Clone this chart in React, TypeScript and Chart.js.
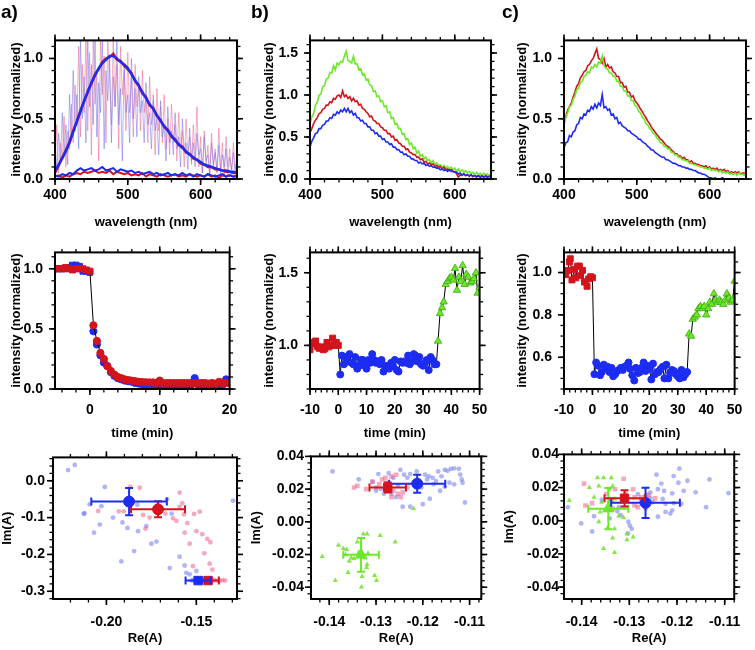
import React, { useEffect, useRef } from "react";
import { Chart, registerables } from "chart.js";
Chart.register(...registerables);

const FONT = "'Liberation Sans', Arial, Helvetica, sans-serif";
const TICK_FONT = { family: FONT, size: 14, weight: "bold" as const };
const TITLE_FONT = { family: FONT, size: 13, weight: "bold" as const };

const RED = "rgb(212,20,28)";
const BLUE = "rgb(28,44,242)";
const GREEN = "rgb(108,232,40)";
const PINK_LINE = "rgba(238,95,135,0.5)";
const LAV_LINE = "rgba(105,110,235,0.5)";
const PINK_DOT = "rgba(236,96,136,0.55)";
const LAV_DOT = "rgba(110,120,236,0.55)";
const GREEN_DOT = "rgba(110,226,40,0.85)";

// ---------------- spectra (wavelength, nm) ----------------
const WL25 = [400,402.5,405,407.5,410,412.5,415,417.5,420,422.5,425,427.5,430,432.5,435,437.5,440,442.5,445,447.5,450,452.5,455,457.5,460,462.5,465,467.5,470,472.5,475,477.5,480,482.5,485,487.5,490,492.5,495,497.5,500,502.5,505,507.5,510,512.5,515,517.5,520,522.5,525,527.5,530,532.5,535,537.5,540,542.5,545,547.5,550,552.5,555,557.5,560,562.5,565,567.5,570,572.5,575,577.5,580,582.5,585,587.5,590,592.5,595,597.5,600,602.5,605,607.5,610,612.5,615,617.5,620,622.5,625,627.5,630,632.5,635,637.5,640,642.5,645,647.5,650];
const WL5 = [400,405,410,415,420,425,430,435,440,445,450,455,460,465,470,475,480,485,490,495,500,505,510,515,520,525,530,535,540,545,550,555,560,565,570,575,580,585,590,595,600,605,610,615,620,625,630,635,640,645,650];

// panel a (top)
const A_SINGLE_RED = [0.12,0.45,0.05,0.30,0.18,0.52,0.10,0.40,0.25,0.62, 0.30,0.78,0.45,1.10,0.35,0.95,0.55,1.16,0.40,1.05, 0.20,1.16,0.62,0.90,0.15,1.16,0.70,1.02,0.30,1.16, 0.85,0.45,1.16,0.60,0.95,0.25,1.10,0.70,0.90,0.40, 1.05,0.55,0.85,0.35,0.95,0.60,0.80,0.40,0.90,0.55, 0.70,0.30,0.85,0.45,0.65,0.20,0.75,0.40,0.60,0.30, 0.70,0.25,0.50,0.20,0.62,0.30,0.45,0.15,0.55,0.25, 0.40,0.10,0.50,0.20,0.35,0.12,0.45,0.18,0.60,0.10, 0.35,0.05,0.40,0.12,0.28,0.02,0.38,0.10,0.25,0.05, 0.42,0.08,0.30,0.03,0.35,0.10,0.25,0.02,0.30,0.08, 0.20];
const A_SINGLE_BLUE = [0.30,0.08,0.38,0.15,0.55,0.20,0.45,0.12,0.70,0.35, 0.90,0.40,0.70,0.25,1.16,0.50,0.85,0.30,1.16,0.60, 0.95,0.45,1.16,0.35,0.80,0.55,1.16,0.25,0.90,0.65, 1.00,0.30,0.85,0.60,1.16,0.45,0.75,0.15,0.95,0.55, 0.70,0.30,1.00,0.50,0.75,0.35,0.85,0.55,0.65,0.30, 0.80,0.45,0.55,0.25,0.70,0.40,0.50,0.20,0.65,0.35, 0.45,0.15,0.60,0.30,0.40,0.20,0.55,0.25,0.35,0.10, 0.50,0.22,0.30,0.08,0.42,0.15,0.30,0.10,0.38,0.20, 0.25,0.05,0.35,0.15,0.20,0.03,0.30,0.12,0.22,0.06, 0.28,0.04,0.20,0.10,0.25,0.02,0.18,0.08,0.22,0.05, 0.15];
const A_AVG_BLUE = [0.07,0.12,0.17,0.23,0.30,0.39,0.48,0.56,0.65,0.72, 0.80,0.86,0.92,0.96,0.99,1.02,1.02,1.00,0.97,0.95, 0.92,0.87,0.82,0.77,0.72,0.67,0.62,0.58,0.53,0.48, 0.44,0.40,0.36,0.32,0.29,0.26,0.23,0.20,0.18,0.16, 0.14,0.12,0.11,0.10,0.09,0.08,0.07,0.07,0.06,0.06, 0.05];
const A_AVG_RED = [0.05,0.11,0.18,0.24,0.31,0.40,0.47,0.57,0.64,0.73, 0.79,0.87,0.91,0.97,1.00,1.01,1.04,0.99,0.98,0.94, 0.91,0.88,0.81,0.78,0.71,0.68,0.61,0.59,0.52,0.49, 0.43,0.41,0.35,0.33,0.28,0.27,0.22,0.21,0.17,0.16, 0.13,0.12,0.10,0.10,0.08,0.08,0.07,0.06,0.06,0.05, 0.05];
const A_LOW_BLUE = [0.03,0.02,0.04,0.03,0.05,0.04,0.07,0.09,0.07,0.08, 0.09,0.07,0.08,0.10,0.07,0.08,0.09,0.06,0.08,0.07, 0.06,0.07,0.05,0.06,0.04,0.05,0.06,0.04,0.05,0.03, 0.04,0.05,0.03,0.04,0.03,0.05,0.03,0.04,0.02,0.04, 0.03,0.02,0.04,0.03,0.02,0.03,0.04,0.02,0.03,0.02, 0.03];
const A_LOW_RED = [0.02,0.03,0.01,0.03,0.02,0.04,0.05,0.04,0.06,0.05, 0.06,0.07,0.05,0.06,0.05,0.07,0.04,0.06,0.05,0.04, 0.05,0.03,0.04,0.03,0.05,0.02,0.04,0.03,0.02,0.04, 0.03,0.02,0.03,0.04,0.02,0.03,0.02,0.04,0.03,0.02, 0.03,0.02,0.04,0.02,0.03,0.01,0.03,0.02,0.03,0.02, 0.02];

// panel b (top)
const B_GREEN = [0.66,0.74,0.78,0.88,0.91,1.00,1.01,1.10,1.11,1.19, 1.20,1.27,1.26,1.35,1.30,1.38,1.36,1.40,1.39,1.46, 1.52,1.41,1.40,1.38,1.46,1.37,1.37,1.30,1.31,1.24, 1.25,1.18,1.19,1.12,1.11,1.04,1.05,0.98,0.99,0.92, 0.93,0.86,0.87,0.79,0.80,0.72,0.73,0.65,0.66,0.60, 0.60,0.53,0.54,0.47,0.48,0.41,0.43,0.36,0.38,0.31, 0.33,0.27,0.29,0.24,0.26,0.22,0.23,0.19,0.22,0.17, 0.19,0.16,0.17,0.14,0.16,0.13,0.15,0.12,0.14,0.11, 0.13,0.09,0.12,0.08,0.11,0.08,0.10,0.07,0.09,0.06, 0.08,0.05,0.08,0.05,0.07,0.04,0.07,0.05,0.06,0.04, 0.06];
const B_RED = [0.55,0.60,0.66,0.70,0.73,0.78,0.79,0.83,0.84,0.88, 0.88,0.92,0.91,0.96,0.95,0.99,1.00,0.97,1.05,0.98, 1.00,0.96,0.98,0.93,0.96,0.92,0.93,0.88,0.89,0.84, 0.83,0.80,0.78,0.74,0.75,0.70,0.69,0.66,0.66,0.62, 0.61,0.58,0.58,0.54,0.54,0.50,0.51,0.46,0.47,0.43, 0.42,0.39,0.39,0.35,0.36,0.32,0.31,0.29,0.29,0.26, 0.26,0.23,0.24,0.20,0.21,0.18,0.19,0.17,0.18,0.15, 0.16,0.14,0.15,0.12,0.14,0.11,0.12,0.10,0.11,0.09, 0.09,0.06,0.02,0.05,0.04,0.06,0.04,0.05,0.03,0.05, 0.03,0.04,0.02,0.04,0.03,0.04,0.02,0.04,0.03,0.03, 0.04];
const B_BLUE = [0.38,0.45,0.49,0.54,0.55,0.60,0.60,0.64,0.65,0.69, 0.69,0.73,0.72,0.77,0.76,0.80,0.78,0.82,0.80,0.84, 0.80,0.84,0.79,0.81,0.76,0.78,0.73,0.73,0.69,0.70, 0.66,0.66,0.62,0.62,0.58,0.58,0.54,0.55,0.51,0.51, 0.47,0.48,0.44,0.44,0.41,0.42,0.38,0.38,0.35,0.35, 0.32,0.32,0.29,0.30,0.27,0.27,0.24,0.24,0.22,0.22, 0.19,0.20,0.18,0.19,0.16,0.17,0.15,0.16,0.14,0.14, 0.13,0.13,0.11,0.12,0.10,0.11,0.09,0.11,0.09,0.09, 0.08,0.08,0.06,0.07,0.05,0.06,0.04,0.05,0.04,0.05, 0.03,0.04,0.03,0.04,0.02,0.03,0.03,0.03,0.02,0.03, 0.03];

// panel c (top)
const C_RED = [0.47,0.52,0.57,0.60,0.63,0.68,0.72,0.77,0.79,0.84, 0.86,0.89,0.90,0.94,0.95,0.98,1.00,1.04,1.08,1.00, 0.99,0.96,1.00,0.93,0.95,0.92,0.93,0.89,0.88,0.85, 0.85,0.80,0.80,0.76,0.77,0.72,0.72,0.68,0.69,0.65, 0.63,0.61,0.58,0.56,0.53,0.51,0.48,0.46,0.43,0.41, 0.39,0.37,0.35,0.33,0.32,0.30,0.28,0.27,0.26,0.24, 0.23,0.21,0.21,0.19,0.19,0.17,0.18,0.16,0.16,0.14, 0.15,0.13,0.13,0.12,0.12,0.11,0.11,0.10,0.11,0.09, 0.10,0.08,0.09,0.08,0.09,0.07,0.08,0.07,0.08,0.06, 0.07,0.05,0.06,0.05,0.06,0.05,0.06,0.04,0.05,0.05, 0.05];
const C_GREEN = [0.45,0.51,0.55,0.60,0.61,0.66,0.69,0.74,0.75,0.80, 0.81,0.85,0.86,0.89,0.88,0.93,0.92,0.95,0.93,0.97, 0.96,1.02,0.94,0.92,0.91,0.88,0.88,0.85,0.85,0.81, 0.81,0.77,0.77,0.73,0.73,0.69,0.69,0.65,0.65,0.61, 0.60,0.56,0.55,0.51,0.50,0.46,0.45,0.42,0.41,0.38, 0.37,0.34,0.33,0.30,0.30,0.27,0.27,0.25,0.25,0.22, 0.22,0.20,0.20,0.18,0.18,0.16,0.16,0.15,0.15,0.13, 0.13,0.12,0.12,0.11,0.11,0.10,0.10,0.09,0.09,0.08, 0.09,0.07,0.08,0.07,0.07,0.06,0.07,0.05,0.06,0.05, 0.06,0.04,0.05,0.04,0.05,0.03,0.05,0.04,0.04,0.03, 0.04];
const C_BLUE = [0.26,0.30,0.31,0.36,0.35,0.39,0.40,0.45,0.46,0.51, 0.50,0.54,0.53,0.57,0.56,0.60,0.58,0.62,0.59,0.63, 0.61,0.70,0.59,0.60,0.57,0.58,0.53,0.54,0.50,0.51, 0.46,0.47,0.44,0.43,0.42,0.40,0.40,0.38,0.37,0.36, 0.35,0.33,0.33,0.31,0.30,0.29,0.27,0.26,0.24,0.24, 0.22,0.21,0.20,0.19,0.18,0.18,0.16,0.16,0.15,0.14, 0.13,0.13,0.12,0.11,0.11,0.10,0.10,0.09,0.09,0.08, 0.08,0.07,0.07,0.06,0.05,0.05,0.04,0.04,0.03,0.02, 0.01,0.01,0.00,0.01,0.00,0.00,0.00,0.01,0.00,0.00, 0.00,0.00,0.00,0.00,0.00,0.00,0.00,0.00,0.00,0.00, 0.00];

// ---------------- kinetics (time, min) ----------------
const TIME_A = [-5,-4.5,-4,-3.5,-3,-2.5,-2,-1.5,-1,-0.5,0,0.5,1,1.5,2,2.5,3,3.5,4,4.5,5,5.5,6,6.5,7,7.5,8,8.5,9,9.5,10,10.5,11,11.5,12,12.5,13,13.5,14,14.5,15,15.5,16,16.5,17,17.5,18,18.5,19,19.5,20];
const KIN_A_RED = [1.00,1.00,1.00,1.01,1.00,0.99,1.00,1.00,1.00,0.99,0.98, 0.53,0.40,0.30,0.25,0.19,0.15,0.12,0.10,0.09,0.08, 0.075,0.07,0.065,0.06,0.058,0.056,0.055,0.055,0.05,0.07, 0.05,0.05,0.05,0.05,0.05,0.05,0.05,0.05,0.05,0.05, 0.05,0.05,0.05,0.045,0.05,0.045,0.06,0.05,0.05,0.05];
const KIN_A_BLUE = [1.00,1.00,1.00,1.00,1.01,1.03,1.03,1.02,0.98,0.98,0.97, 0.48,0.37,0.28,0.22,0.19,0.14,0.11,0.09,0.08,0.07, 0.065,0.06,0.05,0.045,0.04,0.04,0.04,0.04,0.035,0.035, 0.035,0.03,0.035,0.035,0.03,0.035,0.035,0.03,0.035,0.09, 0.035,0.03,0.035,0.035,0.03,0.035,0.035,0.035,0.08,0.06];

const TIME_B_RED = [-10,-9.3,-8.7,-8,-7.3,-6.7,-6,-5.3,-4.7,-4,-3.3,-2.7,-2,-1.3,-0.7,0];
const KIN_B_RED = [0.97,1.01,1.02,1.03,0.99,0.98,0.99,0.97,0.98,1.02,0.99,1.00,1.05,1.00,1.02,1.00];
const TIME_B_BLUE = [0.7,1.3,2,2.7,3.3,4,4.7,5.3,6,6.7,7.3,8,8.7,9.3,10,10.7,11.3,12,12.7,13.3,14,14.7,15.3,16,16.7,17.3,18,18.7,19.3,20,20.7,21.3,22,22.7,23.3,24,24.7,25.3,26,26.7,27.3,28,28.7,29.3,30,30.7,31.3,32,32.7,33.3,34,34.7];
const KIN_B_BLUE = [0.80,0.93,0.87,0.92,0.89,0.94,0.88,0.87,0.92,0.84, 0.86,0.90,0.90,0.86,0.84,0.90,0.88,0.94,0.90,0.88, 0.89,0.87,0.90,0.82,0.86,0.85,0.84,0.88,0.86,0.90, 0.83,0.82,0.89,0.88,0.89,0.88,0.93,0.87,0.89,0.94, 0.93,0.89,0.92,0.87,0.86,0.88,0.90,0.83,0.92,0.90, 0.87,0.87];
const TIME_B_GREEN = [35.3,36,36.7,37.3,38,38.7,39.3,40,40.7,41.3,42,42.7,43.3,44,44.7,45.3,46,46.7,47.3,48,48.7,49.3,50];
const KIN_B_GREEN = [1.03,1.22,1.26,1.30,1.42,1.44,1.46,1.47,1.45,1.53,1.38,1.47,1.44,1.55,1.42,1.49,1.47,1.43,1.44,1.46,1.50,1.36,1.40];

const TIME_C_RED = [-9.4,-8.7,-8.1,-7.8,-7.2,-6.3,-5.9,-5.2,-4.6,-4.2,-3.5,-2.8,-1.9,-1.3,-0.6,0];
const KIN_C_RED = [0.99,1.01,1.05,1.065,0.965,1.015,0.975,1.03,1.03,0.985,1.01,0.955,0.935,0.97,0.98,0.975];
const TIME_C_BLUE = [0.7,1.3,2,2.7,3.3,4,4.7,5.3,6,6.7,7.3,8,8.7,9.3,10,10.7,11.3,12,12.7,13.3,14,14.7,15.3,16,16.7,17.3,18,18.7,19.3,20,20.7,21.3,22,22.7,23.3,24,24.7,25.3,26,26.7,27.3,28,28.7,29.3,30,30.7,31.3,32,32.7,33.3];
const KIN_C_BLUE = [0.52,0.575,0.56,0.515,0.53,0.565,0.55,0.555,0.53,0.55, 0.51,0.52,0.535,0.54,0.55,0.54,0.555,0.56,0.575,0.545, 0.515,0.49,0.55,0.525,0.53,0.55,0.575,0.535,0.56,0.545, 0.495,0.57,0.52,0.53,0.53,0.545,0.555,0.50,0.565,0.50, 0.525,0.54,0.535,0.52,0.51,0.50,0.54,0.505,0.52,0.53];
const TIME_C_GREEN = [34,34.7,35.3,36,36.7,37.3,38,38.7,39.3,40,40.7,41.3,42,42.7,43.3,44,44.7,45.3,46,46.7,47.3,48,48.7,49.3,50];
const KIN_C_GREEN = [0.71,0.70,0.78,0.79,0.80,0.83,0.84,0.83,0.84,0.80,0.83,0.86,0.85,0.90,0.87,0.86,0.87,0.86,0.85,0.87,0.90,0.88,0.86,0.87,0.96];

// ---------------- phasor plots Re(A) / Im(A) ----------------
const PA_BLUE_RE = [-0.2213,-0.2176,-0.2009,-0.2093,-0.2126,-0.2122,-0.2028,-0.2037,-0.2069,-0.1963,-0.1917,-0.1911,-0.1883,-0.1846,-0.1824,-0.1828,-0.1778,-0.1750,-0.1722,-0.1663,-0.1637,-0.1648,-0.1593,-0.1565,-0.1556,-0.1537,-0.1528,-0.1500,-0.1296,-0.1520,-0.1505,-0.1490,-0.1475,-0.1460,-0.1445];
const PA_BLUE_IM = [0.029,0.043,-0.017,-0.064,-0.090,-0.088,-0.069,-0.119,-0.141,-0.100,-0.219,-0.113,-0.128,-0.191,-0.137,-0.065,-0.123,-0.171,-0.165,-0.050,-0.089,-0.237,-0.206,-0.230,-0.250,-0.254,-0.271,-0.245,-0.054,-0.270,-0.272,-0.270,-0.271,-0.272,-0.270];
const PA_RED_RE = [-0.2046,-0.1931,-0.1904,-0.1867,-0.1815,-0.1796,-0.1783,-0.1760,-0.1722,-0.1704,-0.1672,-0.1630,-0.1611,-0.1593,-0.1593,-0.1578,-0.1565,-0.1569,-0.1550,-0.1537,-0.1513,-0.1500,-0.1481,-0.1467,-0.1456,-0.1439,-0.1422,-0.1426,-0.1411,-0.1519,-0.1430,-0.1415,-0.1400,-0.1385,-0.1370,-0.1355,-0.1340];
const PA_RED_IM = [-0.082,-0.083,-0.083,-0.017,-0.019,-0.093,-0.130,-0.100,-0.076,-0.071,-0.089,-0.102,-0.109,-0.071,-0.032,-0.061,-0.141,-0.091,-0.115,-0.171,-0.090,-0.137,-0.084,-0.145,-0.197,-0.158,-0.167,-0.225,-0.241,-0.232,-0.270,-0.272,-0.270,-0.271,-0.272,-0.270,-0.271];
const PA_MEAN_RE = [-0.1874,-0.1713,-0.1490,-0.1435];
const PA_MEAN_IM = [-0.0565,-0.0774,-0.271,-0.271];
const PA_ERR_RE = [0.021,0.015,0.007,0.006];
const PA_ERR_IM = [0.037,0.022,0.002,0.002];

const PB_BLUE_RE = [-0.1393,-0.1337,-0.1308,-0.1295,-0.1273,-0.1263,-0.1248,-0.1240,-0.1233,-0.1227,-0.1213,-0.1195,-0.1191,-0.1187,-0.1179,-0.1172,-0.1167,-0.1160,-0.1153,-0.1147,-0.1140,-0.1133,-0.1123,-0.1120,-0.1117,-0.1115,-0.1133,-0.1143,-0.1153,-0.1163,-0.1177,-0.1185,-0.1200,-0.1227,-0.1243,-0.1110,-0.1257,-0.1283,-0.1300,-0.1290,-0.1267,-0.1213,-0.1203,-0.1253];
const PB_BLUE_IM = [0.0308,0.0259,0.0245,0.0292,0.0298,0.0269,0.0318,0.0288,0.0269,0.0292,0.0308,0.0288,0.0259,0.0278,0.0269,0.0249,0.0308,0.0278,0.0318,0.0312,0.0324,0.0327,0.0324,0.0288,0.0259,0.0239,0.0229,0.0239,0.0214,0.0190,0.0229,0.0141,0.0108,0.0092,0.0092,0.0118,0.0151,0.0171,0.0190,0.0200,0.0171,0.0229,0.0210,0.0220];
const PB_RED_RE = [-0.1347,-0.1340,-0.1321,-0.1307,-0.1293,-0.1287,-0.1280,-0.1277,-0.1267,-0.1257,-0.1263,-0.1253,-0.1243,-0.1233,-0.1247,-0.1267,-0.1300,-0.1270];
const PB_RED_IM = [0.0210,0.0220,0.0200,0.0245,0.0229,0.0259,0.0269,0.0239,0.0278,0.0288,0.0190,0.0171,0.0180,0.0210,0.0151,0.0151,0.0210,0.0190];
const PB_GREEN_RE = [-0.1415,-0.1387,-0.1380,-0.1370,-0.1363,-0.1357,-0.1360,-0.1365,-0.1353,-0.1347,-0.1340,-0.1327,-0.1319,-0.1330,-0.1331,-0.1320,-0.1319,-0.1303,-0.1299,-0.1291,-0.1259,-0.1220,-0.1337,-0.1317,-0.1323];
const PB_GREEN_IM = [-0.0212,-0.0359,-0.0143,-0.0163,-0.0169,-0.0241,-0.0310,-0.0202,-0.0222,-0.0225,-0.0124,-0.0075,-0.0075,-0.0335,-0.0398,-0.0280,-0.0261,-0.0329,-0.0359,-0.0084,-0.0124,0.0082,-0.0186,-0.0192,-0.0222];
const PB_MEAN_RE = [-0.1275,-0.1212,-0.1332];
const PB_MEAN_IM = [0.021,0.0233,-0.0202];
const PB_ERR_RE = [0.0039,0.006,0.0038];
const PB_ERR_IM = [0.003,0.0055,0.0103];

const PC_BLUE_RE = [-0.1429,-0.1401,-0.1378,-0.1374,-0.1358,-0.1341,-0.1325,-0.1318,-0.1302,-0.1295,-0.1299,-0.1303,-0.1282,-0.1276,-0.1263,-0.1256,-0.1251,-0.1243,-0.1240,-0.1233,-0.1227,-0.1230,-0.1224,-0.1210,-0.1207,-0.1210,-0.1214,-0.1207,-0.1197,-0.1191,-0.1186,-0.1178,-0.1161,-0.1139,-0.1132,-0.1195,-0.1092,-0.1224,-0.1240,-0.1322,-0.1341,-0.1256];
const PC_BLUE_IM = [0.0082,-0.0016,-0.0065,0.0027,0.0127,0.0112,0.0057,0.0033,-0.0006,-0.0049,-0.0029,-0.0076,0.0161,0.0127,0.0155,0.0135,0.0112,0.0278,0.0190,0.0224,0.0180,0.0131,0.0102,0.0165,0.0106,0.0063,0.0043,0.0269,0.0229,0.0102,0.0180,0.0241,0.0171,0.0082,0.0249,0.0314,0.0167,0.0053,0.0024,0.0082,0.0014,0.0171];
const PC_RED_RE = [-0.1395,-0.1392,-0.1378,-0.1348,-0.1330,-0.1312,-0.1308,-0.1292,-0.1289,-0.1282,-0.1276,-0.1269,-0.1266,-0.1259,-0.1246,-0.1289,-0.1338,-0.1335];
const PC_RED_IM = [0.0224,0.0092,0.0106,0.0161,0.0190,0.0253,0.0161,0.0190,0.0092,0.0082,0.0141,0.0122,0.0076,0.0155,0.0135,0.0141,0.0127,0.0073];
const PC_GREEN_RE = [-0.1426,-0.1384,-0.1367,-0.1364,-0.1358,-0.1354,-0.1338,-0.1335,-0.1342,-0.1331,-0.1361,-0.1364,-0.1354,-0.1335,-0.1331,-0.1305,-0.1292,-0.1305,-0.1322,-0.1331,-0.1346,-0.1312,-0.1374];
const PC_GREEN_IM = [0.0122,0.0200,0.0259,0.0210,0.0112,0.0259,0.0259,0.0210,0.0190,0.0131,0.0053,-0.0006,-0.0167,-0.0104,-0.0192,-0.0114,-0.0098,-0.0080,0.0029,-0.0049,-0.0045,0.0018,0.0141];
const PC_MEAN_RE = [-0.131,-0.1266,-0.1344];
const PC_MEAN_IM = [0.0135,0.0108,0.0073];
const PC_ERR_RE = [0.0042,0.0072,0.0042];
const PC_ERR_IM = [0.0049,0.0091,0.0124];

// ---------------- helpers ----------------
const xy = (xs: number[], ys: number[]) => xs.map((x, i) => ({ x, y: ys[i] }));

const frameTicks = {
  id: "frameTicks",
  afterDraw(chart: any, _args: any, opts: any) {
    const { ctx, chartArea } = chart;
    const { left, right, top, bottom } = chartArea;
    const xs = chart.scales.x;
    const ys = chart.scales.y;
    const vals = (min: number, max: number, step: number) => {
      const out: number[] = [];
      const k0 = Math.ceil(min / step - 1e-6);
      const k1 = Math.floor(max / step + 1e-6);
      for (let k = k0; k <= k1; k++) out.push(k * step);
      return out;
    };
    const seg = (a: number, b: number, c: number, d: number) => {
      ctx.beginPath(); ctx.moveTo(a, b); ctx.lineTo(c, d); ctx.stroke();
    };
    ctx.save();
    ctx.strokeStyle = "#000";
    ctx.lineWidth = 1.3;
    vals(xs.min, xs.max, opts.xMinor).forEach((v) => {
      const p = xs.getPixelForValue(v); seg(p, bottom, p, bottom + 3.5); seg(p, top, p, top - 3.5);
    });
    vals(ys.min, ys.max, opts.yMinor).forEach((v) => {
      const p = ys.getPixelForValue(v); seg(left, p, left - 3.5, p); seg(right, p, right + 3.5, p);
    });
    ctx.lineWidth = 1.6;
    xs.ticks.forEach((t: any) => {
      const p = xs.getPixelForValue(t.value); seg(p, bottom, p, bottom + 6); seg(p, top, p, top - 6);
    });
    ys.ticks.forEach((t: any) => {
      const p = ys.getPixelForValue(t.value); seg(left, p, left - 6, p); seg(right, p, right + 6, p);
    });
    ctx.lineWidth = 2;
    ctx.strokeRect(left, top, right - left, bottom - top);
    ctx.restore();
  },
};

const errorBars = {
  id: "errorBars",
  beforeDatasetDraw(chart: any, args: any) {
    const ds = chart.data.datasets[args.index];
    if (!ds.errX) return;
    const { ctx } = chart;
    const xs = chart.scales.x;
    const ys = chart.scales.y;
    const cap = 4;
    ctx.save();
    ctx.strokeStyle = ds.borderColor;
    ctx.lineWidth = 2;
    ds.data.forEach((pt: any, i: number) => {
      const px = xs.getPixelForValue(pt.x);
      const py = ys.getPixelForValue(pt.y);
      const x0 = xs.getPixelForValue(pt.x - ds.errX[i]);
      const x1 = xs.getPixelForValue(pt.x + ds.errX[i]);
      const y0 = ys.getPixelForValue(pt.y - ds.errY[i]);
      const y1 = ys.getPixelForValue(pt.y + ds.errY[i]);
      ctx.beginPath();
      ctx.moveTo(x0, py); ctx.lineTo(x1, py);
      ctx.moveTo(x0, py - cap); ctx.lineTo(x0, py + cap);
      ctx.moveTo(x1, py - cap); ctx.lineTo(x1, py + cap);
      ctx.moveTo(px, y0); ctx.lineTo(px, y1);
      ctx.moveTo(px - cap, y0); ctx.lineTo(px + cap, y0);
      ctx.moveTo(px - cap, y1); ctx.lineTo(px + cap, y1);
      ctx.stroke();
    });
    ctx.restore();
  },
};

type Geo = { cx: number; cy: number; cw: number; ch: number; L: number; T: number; R: number; B: number };
type Ax = { min: number; max: number; step: number; minor: number; dec: number; title: string; tickPad: number; titlePad: number };

function buildOptions(g: Geo, ax: Ax, ay: Ax) {
  const W = g.L - g.cx;
  const H = g.cy + g.ch - g.B;
  const fmt = (d: number) => (v: any) => {
    const n = Number(v);
    return (Math.abs(n) < 1e-9 ? 0 : n).toFixed(d);
  };
  return {
    responsive: false,
    maintainAspectRatio: false,
    animation: false,
    events: [],
    layout: { padding: { left: 0, top: g.T - g.cy, right: g.cx + g.cw - g.R, bottom: 0 } },
    plugins: {
      legend: { display: false },
      tooltip: { enabled: false },
      frameTicks: { xMinor: ax.minor, yMinor: ay.minor },
    },
    scales: {
      x: {
        type: "linear", position: "bottom", min: ax.min, max: ax.max,
        grid: { display: false, drawTicks: false, tickLength: 0 }, border: { display: false },
        ticks: { stepSize: ax.step, includeBounds: false, autoSkip: false, maxRotation: 0, padding: ax.tickPad, color: "#000", font: TICK_FONT, callback: fmt(ax.dec) },
        title: { display: true, text: ax.title, color: "#000", font: TITLE_FONT, padding: { top: 0, bottom: ax.titlePad } },
        afterFit: (s: any) => { s.height = H; },
      },
      y: {
        type: "linear", position: "left", min: ay.min, max: ay.max,
        grid: { display: false, drawTicks: false, tickLength: 0 }, border: { display: false },
        ticks: { stepSize: ay.step, includeBounds: false, autoSkip: false, padding: ay.tickPad, color: "#000", font: TICK_FONT, callback: fmt(ay.dec) },
        title: { display: true, text: ay.title, color: "#000", font: TITLE_FONT, padding: { top: ay.titlePad, bottom: 0 } },
        afterFit: (s: any) => { s.width = W; },
      },
    },
  };
}

const lineDs = (xs: number[], ys: number[], color: string, width: number, order: number) => ({
  data: xy(xs, ys), showLine: true, borderColor: color, backgroundColor: color, borderWidth: width,
  pointRadius: 0, pointHoverRadius: 0, tension: 0, clip: 0, order,
});

const markerDs = (xs: number[], ys: number[], color: string, style: any, radius: any, order: number, border?: string, bw = 1) => ({
  data: xy(xs, ys), showLine: false, backgroundColor: color, borderColor: border || color, borderWidth: bw,
  pointStyle: style, pointRadius: radius, pointHoverRadius: radius, order,
});

const meanDs = (re: number[], im: number[], ere: number[], eim: number[], colors: string[], styles: string[]) =>
  re.map((r, i) => ({
    data: [{ x: r, y: im[i] }], showLine: false, backgroundColor: colors[i], borderColor: colors[i], borderWidth: 1,
    pointStyle: styles[i], pointRadius: styles[i] === "circle" ? 5.5 : styles[i] === "rect" ? 6 : 6.5,
    errX: [ere[i]], errY: [eim[i]], order: 1,
  }));

// ---------------- layout ----------------
const TOP = { cy: 20, ch: 210, T: 30, B: 179 };
const MID = { cy: 232, ch: 209, T: 242, B: 389 };
const BOT = { cy: 441, ch: 205, T: 451, B: 599 };

const specX = (titlePad: number): Ax => ({ min: 400, max: 650, step: 100, minor: 20, dec: 0, title: "wavelength (nm)", tickPad: 7.6, titlePad });
const timeX = (min: number, max: number): Ax => ({ min, max, step: 10, minor: 2, dec: 0, title: "time (min)", tickPad: 12.6, titlePad: 0 });

const PANELS: { geo: Geo; make: () => any }[] = [
  // ---- top row: spectra ----
  {
    geo: { cx: 0, cw: 250, L: 55, R: 237, ...TOP },
    make: () => ({
      datasets: [
        lineDs(WL25, A_SINGLE_RED, PINK_LINE, 1, 6),
        lineDs(WL25, A_SINGLE_BLUE, LAV_LINE, 1, 5),
        lineDs(WL5, A_AVG_RED, RED, 2.5, 4),
        lineDs(WL5, A_AVG_BLUE, BLUE, 2.5, 3),
        lineDs(WL5, A_LOW_RED, RED, 2, 2),
        lineDs(WL5, A_LOW_BLUE, BLUE, 2, 1),
      ],
      x: specX(0),
      y: { min: 0, max: 1.15, step: 0.5, minor: 0.1, dec: 1, title: "intensity (normalized)", tickPad: 12, titlePad: 9 },
    }),
  },
  {
    geo: { cx: 250, cw: 250, L: 310, R: 491, ...TOP },
    make: () => ({
      datasets: [
        lineDs(WL25, B_GREEN, GREEN, 1.6, 3),
        lineDs(WL25, B_RED, RED, 1.6, 2),
        lineDs(WL25, B_BLUE, BLUE, 1.6, 1),
      ],
      x: specX(0),
      y: { min: 0, max: 1.65, step: 0.5, minor: 0.1, dec: 1, title: "intensity (normalized)", tickPad: 12, titlePad: 11.7 },
    }),
  },
  {
    geo: { cx: 500, cw: 255, L: 564, R: 746, ...TOP },
    make: () => ({
      datasets: [
        lineDs(WL25, C_RED, RED, 1.6, 3),
        lineDs(WL25, C_GREEN, GREEN, 1.6, 2),
        lineDs(WL25, C_BLUE, BLUE, 1.6, 1),
      ],
      x: specX(0),
      y: { min: 0, max: 1.15, step: 0.5, minor: 0.1, dec: 1, title: "intensity (normalized)", tickPad: 12, titlePad: 14.7 },
    }),
  },
  // ---- middle row: kinetics ----
  {
    geo: { cx: 0, cw: 250, L: 55, R: 237, ...MID },
    make: () => ({
      datasets: [
        markerDs(TIME_A, KIN_A_BLUE, BLUE, (c: any) => (TIME_A[c.dataIndex] <= 0 ? "rect" : "circle"), (c: any) => (TIME_A[c.dataIndex] <= 0 ? 4.2 : 3.6), 3),
        lineDs(TIME_A, KIN_A_RED, "#000", 1, 2),
        markerDs(TIME_A, KIN_A_RED, RED, (c: any) => (TIME_A[c.dataIndex] <= 0 ? "rect" : "circle"), (c: any) => (TIME_A[c.dataIndex] <= 0 ? 4.2 : 3.6), 1),
      ],
      x: timeX(-5, 20),
      y: { min: 0, max: 1.136, step: 0.5, minor: 0.1, dec: 1, title: "intensity (normalized)", tickPad: 12, titlePad: 8.3 },
    }),
  },
  {
    geo: { cx: 250, cw: 250, L: 310, R: 491, ...MID },
    make: () => ({
      datasets: [
        lineDs([...TIME_B_RED, ...TIME_B_BLUE, ...TIME_B_GREEN], [...KIN_B_RED, ...KIN_B_BLUE, ...KIN_B_GREEN], "#000", 1, 5),
        markerDs(TIME_B_RED, KIN_B_RED, RED, "rect", 4.2, 1),
        markerDs(TIME_B_BLUE, KIN_B_BLUE, BLUE, "circle", 3.5, 2),
        markerDs(TIME_B_GREEN, KIN_B_GREEN, GREEN, "triangle", 4.3, 3, "rgb(60,170,20)", 0.8),
      ],
      x: timeX(-10, 50),
      y: { min: 0.7, max: 1.64, step: 0.5, minor: 0.1, dec: 1, title: "intensity (normalized)", tickPad: 12, titlePad: 11.7 },
    }),
  },
  {
    geo: { cx: 500, cw: 255, L: 564, R: 746, ...MID },
    make: () => ({
      datasets: [
        lineDs([...TIME_C_RED, ...TIME_C_BLUE, ...TIME_C_GREEN], [...KIN_C_RED, ...KIN_C_BLUE, ...KIN_C_GREEN], "#000", 1, 5),
        markerDs(TIME_C_RED, KIN_C_RED, RED, "rect", 4.2, 1),
        markerDs(TIME_C_BLUE, KIN_C_BLUE, BLUE, "circle", 3.5, 2),
        markerDs(TIME_C_GREEN, KIN_C_GREEN, GREEN, "triangle", 4.3, 3, "rgb(60,170,20)", 0.8),
      ],
      x: timeX(-10, 50),
      y: { min: 0.45, max: 1.095, step: 0.2, minor: 0.05, dec: 1, title: "intensity (normalized)", tickPad: 12, titlePad: 15 },
    }),
  },
  // ---- bottom row: Re(A) vs Im(A) ----
  {
    geo: { cx: 0, cw: 250, L: 53, R: 237, ...BOT },
    make: () => ({
      datasets: [
        markerDs(PA_BLUE_RE, PA_BLUE_IM, LAV_DOT, "circle", 2.4, 6, LAV_DOT, 0),
        markerDs(PA_RED_RE, PA_RED_IM, PINK_DOT, "circle", 2.4, 5, PINK_DOT, 0),
        ...meanDs(PA_MEAN_RE, PA_MEAN_IM, PA_ERR_RE, PA_ERR_IM, [BLUE, RED, BLUE, RED], ["circle", "circle", "rect", "rect"]),
      ],
      x: { min: -0.2297, max: -0.1274, step: 0.05, minor: 0.01, dec: 2, title: "Re(A)", tickPad: 14.3, titlePad: 0 },
      y: { min: -0.321, max: 0.0634, step: 0.1, minor: 0.02, dec: 1, title: "Im(A)", tickPad: 8, titlePad: -0.6 },
    }),
  },
  {
    geo: { cx: 250, cw: 250, L: 311, R: 492, ...BOT },
    make: () => ({
      datasets: [
        markerDs(PB_BLUE_RE, PB_BLUE_IM, LAV_DOT, "circle", 2.4, 7, LAV_DOT, 0),
        markerDs(PB_RED_RE, PB_RED_IM, PINK_DOT, "rect", 3.3, 6, PINK_DOT, 0),
        markerDs(PB_GREEN_RE, PB_GREEN_IM, GREEN_DOT, "triangle", 3, 5, GREEN_DOT, 0),
        ...meanDs(PB_MEAN_RE, PB_MEAN_IM, PB_ERR_RE, PB_ERR_IM, [RED, BLUE, GREEN], ["rect", "circle", "triangle"]),
      ],
      x: { min: -0.1439, max: -0.1075, step: 0.01, minor: 0.002, dec: 2, title: "Re(A)", tickPad: 14.3, titlePad: 0 },
      y: { min: -0.0472, max: 0.04, step: 0.02, minor: 0.004, dec: 2, title: "Im(A)", tickPad: 7, titlePad: -1.8 },
    }),
  },
  {
    geo: { cx: 500, cw: 255, L: 564, R: 747, ...BOT },
    make: () => ({
      datasets: [
        markerDs(PC_BLUE_RE, PC_BLUE_IM, LAV_DOT, "circle", 2.4, 7, LAV_DOT, 0),
        markerDs(PC_RED_RE, PC_RED_IM, PINK_DOT, "rect", 3.3, 6, PINK_DOT, 0),
        markerDs(PC_GREEN_RE, PC_GREEN_IM, GREEN_DOT, "triangle", 3, 5, GREEN_DOT, 0),
        ...meanDs(PC_MEAN_RE, PC_MEAN_IM, PC_ERR_RE, PC_ERR_IM, [RED, BLUE, GREEN], ["rect", "circle", "triangle"]),
      ],
      x: { min: -0.1437, max: -0.108, step: 0.01, minor: 0.002, dec: 2, title: "Re(A)", tickPad: 14.3, titlePad: 0 },
      y: { min: -0.0472, max: 0.04, step: 0.02, minor: 0.004, dec: 2, title: "Im(A)", tickPad: 5, titlePad: 1.7 },
    }),
  },
];

function Panel({ geo, make }: { geo: Geo; make: () => any }) {
  const ref = useRef<HTMLCanvasElement | null>(null);
  useEffect(() => {
    const spec = make();
    const chart = new Chart(ref.current as HTMLCanvasElement, {
      type: "scatter",
      data: { datasets: spec.datasets },
      options: buildOptions(geo, spec.x, spec.y) as any,
      plugins: [errorBars, frameTicks],
    } as any);
    return () => chart.destroy();
  }, []);
  return (
    <canvas
      ref={ref}
      width={geo.cw}
      height={geo.ch}
      style={{ position: "absolute", left: geo.cx, top: geo.cy, width: geo.cw, height: geo.ch }}
    />
  );
}

const LETTERS = [
  { t: "a)", x: 1 },
  { t: "b)", x: 251 },
  { t: "c)", x: 502 },
];

export default function App() {
  return (
    <div style={{ position: "absolute", left: 0, top: 0, width: 755, height: 650, background: "#fff", overflow: "hidden" }}>
      {PANELS.map((p, i) => (
        <Panel key={i} geo={p.geo} make={p.make} />
      ))}
      {LETTERS.map((l) => (
        <div
          key={l.t}
          style={{ position: "absolute", left: l.x, top: 2, fontFamily: FONT, fontWeight: "bold", fontSize: 19, lineHeight: "19px", color: "#000" }}
        >
          {l.t}
        </div>
      ))}
    </div>
  );
}
